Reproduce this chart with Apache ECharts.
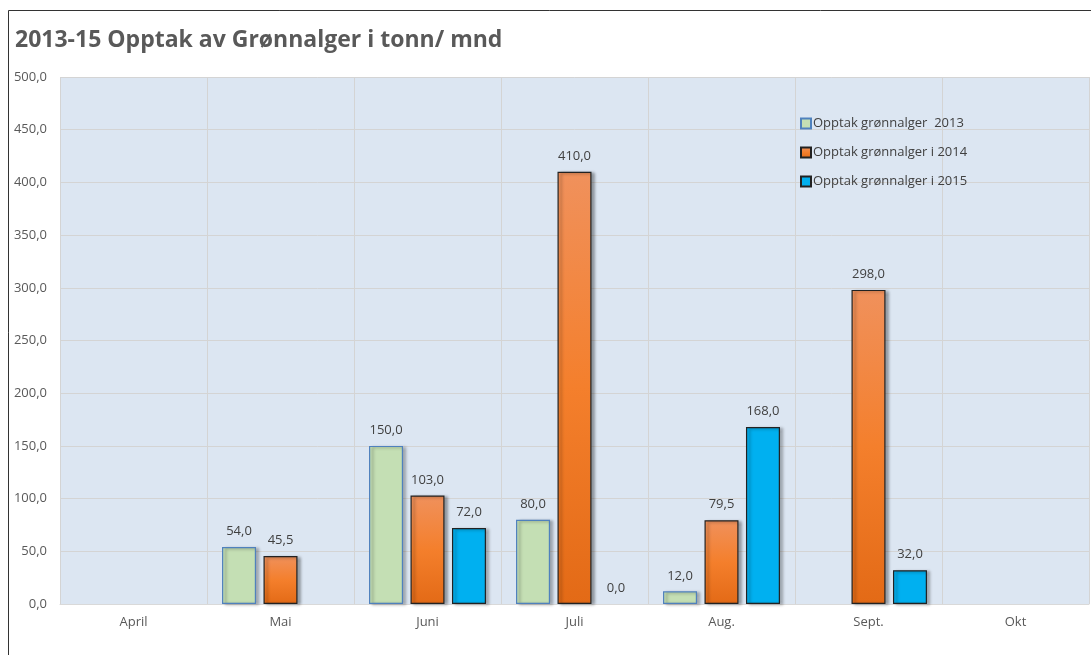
<!DOCTYPE html>
<html><head><meta charset="utf-8">
<script src="https://cdn.jsdelivr.net/npm/echarts@6/dist/echarts.min.js"></script>
<style>html,body{margin:0;padding:0;background:#fff}#c{width:1091px;height:655px}</style>
</head><body><div id="c"></div>
<script>
const titleText = '2013-15 Opptak av Grønnalger i tonn/ mnd';
const categories = ['April', 'Mai', 'Juni', 'Juli', 'Aug.', 'Sept.', 'Okt'];
const seriesNames = ['Opptak grønnalger  2013', 'Opptak grønnalger i 2014', 'Opptak grønnalger i 2015'];
const values2013 = [null, 54.0, 150.0, 80.0, 12.0, null, null];
const values2014 = [null, 45.5, 103.0, 410.0, 79.5, 298.0, null];
const values2015 = [null, null, 72.0, 0.0, 168.0, 32.0, null];

const fmt = v => v.toFixed(1).replace('.', ',');
const font = 'Open Sans';
const labelCfg = {show: true, position: 'top', distance: 9, color: '#404040', fontSize: 13, fontFamily: font,
  formatter: p => p.value == null ? '' : fmt(p.value)};
const shadow = {shadowColor: 'rgba(0,0,0,0.35)', shadowBlur: 3, shadowOffsetX: 3, shadowOffsetY: 1};
// zero-height bars draw no outline in the reference
const prep = arr => arr.map(v => v === 0 ? {value: v, itemStyle: {color: 'rgba(0,0,0,0)', borderWidth: 0, borderColor: 'rgba(0,0,0,0)', shadowBlur: 0, shadowColor: 'rgba(0,0,0,0)', shadowOffsetX: 0, shadowOffsetY: 0}} : v);

const chart = echarts.init(document.getElementById('c'));
chart.setOption({
  animation: false,
  backgroundColor: '#ffffff',
  title: {text: titleText, left: 10, top: 24, textStyle: {fontFamily: font, fontWeight: 'bold', fontSize: 23, color: '#595959'}},
  graphic: [
    {type: 'line', shape: {x1: 8.5, y1: 10.5, x2: 1091, y2: 10.5}, style: {stroke: '#333', lineWidth: 1}},
    {type: 'line', shape: {x1: 8.5, y1: 10.5, x2: 8.5, y2: 655}, style: {stroke: '#333', lineWidth: 1}}
  ],
  legend: {
    orient: 'vertical', left: 795, top: 112, itemGap: 16, itemWidth: 10, itemHeight: 10,
    icon: 'rect',
    textStyle: {fontFamily: font, fontSize: 13, color: '#404040', padding: [0, 0, 0, -3]},
    data: seriesNames
  },
  grid: {left: 60, right: 2, top: 77, bottom: 51, show: true, backgroundColor: '#dce6f2', borderWidth: 0},
  xAxis: {
    type: 'category', data: categories,
    axisLine: {show: true, lineStyle: {color: '#d9d9d9'}},
    axisTick: {show: false},
    splitLine: {show: true, lineStyle: {color: '#d4d4d4'}},
    axisLabel: {color: '#595959', fontSize: 13, fontFamily: font, margin: 12}
  },
  yAxis: {
    type: 'value', min: 0, max: 500, interval: 50,
    axisLine: {show: false}, axisTick: {show: false},
    splitLine: {lineStyle: {color: '#d4d4d4'}},
    axisLabel: {color: '#595959', fontSize: 13, fontFamily: font, margin: 13, formatter: v => fmt(v)}
  },
  series: [
    {name: seriesNames[0], type: 'bar', data: prep(values2013), barWidth: 34, barGap: '22%',
      itemStyle: Object.assign({color: '#c4dfb4', borderColor: '#4f81bd', borderWidth: 1.2}, shadow), label: labelCfg},
    {name: seriesNames[1], type: 'bar', data: prep(values2014), barWidth: 34,
      itemStyle: Object.assign({color: new echarts.graphic.LinearGradient(0, 0, 0, 1, [
        {offset: 0, color: '#f0915c'}, {offset: 0.5, color: '#f47f2c'}, {offset: 1, color: '#e36a16'}]),
        borderColor: '#222', borderWidth: 1.2}, shadow), label: labelCfg},
    {name: seriesNames[2], type: 'bar', data: prep(values2015), barWidth: 34,
      itemStyle: Object.assign({color: '#00b0f0', borderColor: '#222', borderWidth: 1.2}, shadow), label: labelCfg}
  ]
});
</script></body></html>
